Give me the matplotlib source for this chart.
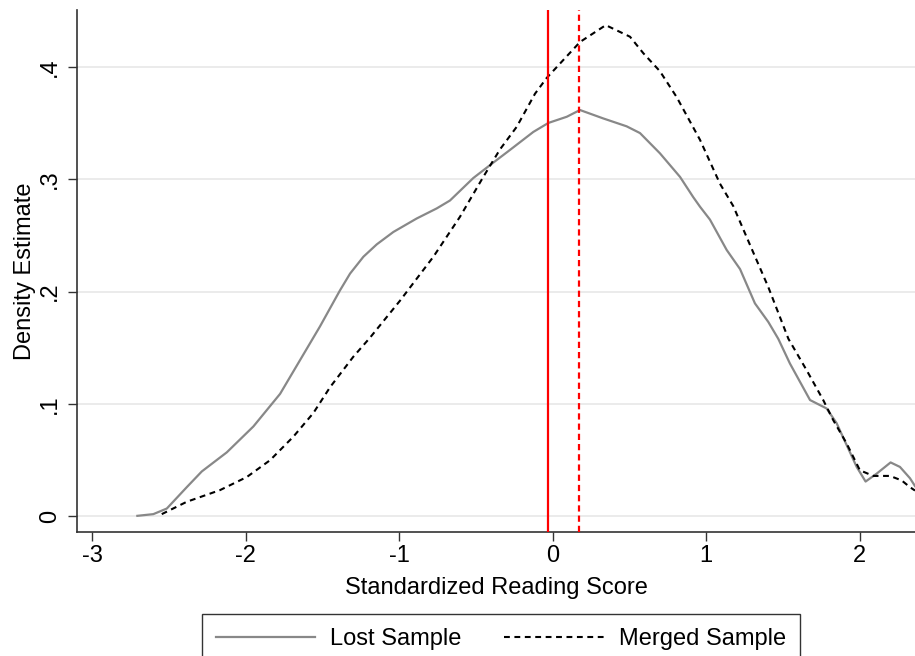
import matplotlib
matplotlib.use("Agg")
import matplotlib.pyplot as plt
from matplotlib.ticker import FuncFormatter

plt.rcParams["font.family"] = ["Liberation Sans", "DejaVu Sans"]
plt.rcParams["axes.unicode_minus"] = False

# kernel density estimates
lost_x = [-2.707, -2.603, -2.515, -2.385, -2.287, -2.124, -1.951, -1.777, -1.647,
          -1.517, -1.387, -1.321, -1.234, -1.147, -1.039, -0.887, -0.756, -0.670,
          -0.518, -0.409, -0.279, -0.127, -0.029, 0.091, 0.177, 0.329, 0.481,
          0.568, 0.698, 0.829, 0.915, 0.959, 1.024, 1.133, 1.220, 1.317, 1.404,
          1.469, 1.545, 1.676, 1.784, 1.849, 1.980, 2.038, 2.110, 2.201, 2.262,
          2.327, 2.360]
lost_y = [0.0005, 0.002, 0.007, 0.026, 0.040, 0.057, 0.080, 0.109, 0.139,
          0.169, 0.201, 0.216, 0.231, 0.242, 0.253, 0.265, 0.274, 0.281,
          0.301, 0.3125, 0.326, 0.342, 0.350, 0.3555, 0.3615, 0.354, 0.347,
          0.341, 0.323, 0.302, 0.284, 0.2755, 0.264, 0.237, 0.220, 0.1895, 0.173,
          0.158, 0.136, 0.1035, 0.096, 0.083, 0.044, 0.031, 0.038, 0.048, 0.044,
          0.034, 0.027]

merged_x = [-2.548, -2.385, -2.168, -1.994, -1.842, -1.690, -1.560, -1.451,
            -1.300, -1.191, -0.995, -0.778, -0.605, -0.453, -0.344, -0.235,
            -0.116, -0.040, 0.177, 0.345, 0.503, 0.590, 0.698, 0.807, 0.959,
            1.089, 1.176, 1.296, 1.404, 1.535, 1.654, 1.762, 1.827, 1.914,
            2.001, 2.088, 2.197, 2.273, 2.327, 2.360]
merged_y = [0.002, 0.013, 0.0234, 0.035, 0.050, 0.071, 0.092, 0.115,
            0.142, 0.159, 0.192, 0.231, 0.2665, 0.302, 0.3265, 0.3466,
            0.376, 0.390, 0.422, 0.437, 0.4267, 0.412, 0.396, 0.373, 0.335,
            0.296, 0.276, 0.238, 0.204, 0.158, 0.130, 0.1035, 0.0857, 0.065,
            0.041, 0.036, 0.036, 0.032, 0.026, 0.023]

# sample means
mean_lost = -0.031
mean_merged = 0.171

xticks = [-3, -2, -1, 0, 1, 2]
yticks = [0, 0.1, 0.2, 0.3, 0.4]

fig = plt.figure(figsize=(9.15, 6.56), dpi=100)
ax = fig.add_axes([0.0842, 0.189, 0.9158, 0.7958])

for yv in yticks:
    ax.axhline(yv, color="#e8e8e8", lw=1.2, zorder=0)

ax.plot(lost_x, lost_y, color="#888888", lw=1.6, label="Lost Sample", zorder=3)
ax.plot(merged_x, merged_y, color="black", lw=1.5, ls=(0, (2.8, 2.2)),
        label="Merged Sample", zorder=3)
ax.axvline(mean_lost, color="red", lw=1.6, zorder=4)
ax.axvline(mean_merged, color="red", lw=1.6, ls=(0, (2.8, 1.8)), zorder=4)

ax.set_xlim(-3.1, 2.36)
ax.set_ylim(-0.0139, 0.4505)
ax.set_xticks(xticks)
ax.set_yticks(yticks)
ax.yaxis.set_major_formatter(FuncFormatter(
    lambda v, _: "0" if v == 0 else f"{v:.1f}".lstrip("0")))
ax.tick_params(axis="both", direction="out", length=6.5, width=1,
               color="#333333", labelsize=17)
ax.tick_params(axis="x", pad=3)
ax.tick_params(axis="y", pad=5)
for lab in ax.get_yticklabels():
    lab.set_rotation(90)
    lab.set_va("center")

for side in ("top", "right"):
    ax.spines[side].set_visible(False)
for side in ("left", "bottom"):
    ax.spines[side].set_color("#333333")
    ax.spines[side].set_linewidth(1.2)

ax.set_xlabel("Standardized Reading Score", fontsize=17, labelpad=7)
ax.set_ylabel("Density Estimate", fontsize=17, labelpad=2)

leg = fig.legend(loc="upper center", bbox_to_anchor=(501 / 915, 1 - 614 / 656),
                 ncol=2, fontsize=17, frameon=True, fancybox=False,
                 edgecolor="black", handlelength=4.2, handletextpad=0.64,
                 columnspacing=1.8, borderpad=0.6, borderaxespad=0)
leg.get_frame().set_linewidth(1.0)

fig.savefig("out.png", dpi=100)
